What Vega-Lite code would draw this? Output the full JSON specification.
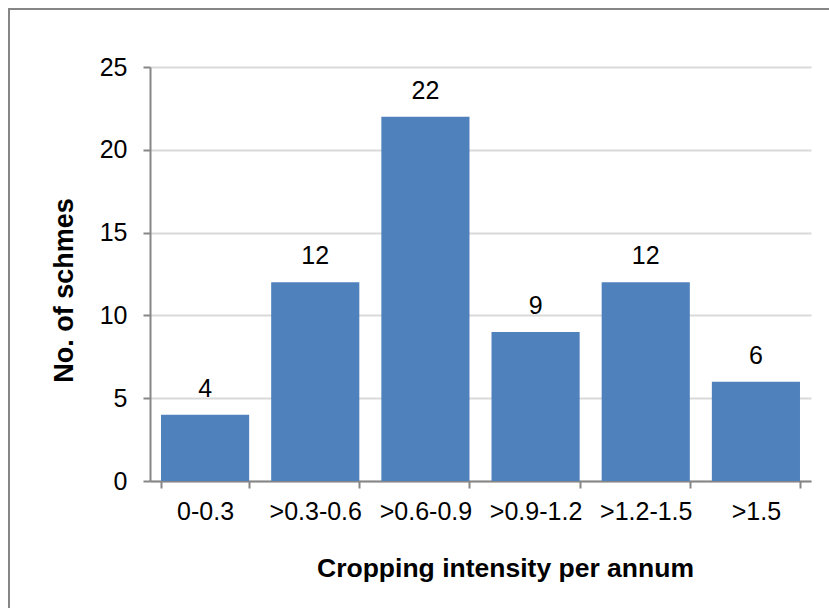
{
  "$schema": "https://vega.github.io/schema/vega-lite/v6.json",
  "width": 661,
  "height": 414,
  "autosize": {"type": "none"},
  "padding": {"left": 150, "top": 67, "right": 18, "bottom": 127},
  "background": "white",
  "config": {
    "font": "Liberation Sans",
    "view": {"stroke": null}
  },
  "data": {
    "values": [
      {"intensity": "0-0.3", "schemes": 4},
      {"intensity": ">0.3-0.6", "schemes": 12},
      {"intensity": ">0.6-0.9", "schemes": 22},
      {"intensity": ">0.9-1.2", "schemes": 9},
      {"intensity": ">1.2-1.5", "schemes": 12},
      {"intensity": ">1.5", "schemes": 6}
    ]
  },
  "encoding": {
    "x": {
      "field": "intensity",
      "type": "nominal",
      "sort": null,
      "scale": {"paddingInner": 0.2, "paddingOuter": 0.1},
      "axis": {
        "title": "Cropping intensity per annum",
        "titleFontSize": 26.5,
        "titleFontWeight": "bold",
        "titleColor": "#000000",
        "titleX": 355,
        "titleY": 95,
        "titleAlign": "center",
        "titleBaseline": "alphabetic",
        "labelAngle": 0,
        "labelFontSize": 25,
        "labelColor": "#000000",
        "labelPadding": 11,
        "tickBand": "extent",
        "tickSize": 7,
        "tickColor": "#868686",
        "tickWidth": 2,
        "domainColor": "#868686",
        "domainWidth": 2,
        "grid": false
      }
    },
    "y": {
      "field": "schemes",
      "type": "quantitative",
      "scale": {"domain": [0, 25], "nice": false},
      "axis": {
        "title": "No. of schmes",
        "titleFontSize": 27,
        "titleFontWeight": "bold",
        "titleColor": "#000000",
        "titleAngle": -90,
        "titleX": -78,
        "titleY": 223,
        "titleAlign": "center",
        "titleBaseline": "alphabetic",
        "values": [0, 5, 10, 15, 20, 25],
        "labelFontSize": 25,
        "labelColor": "#000000",
        "labelPadding": 16,
        "tickSize": 7,
        "tickColor": "#868686",
        "tickWidth": 2,
        "domainColor": "#868686",
        "domainWidth": 2,
        "grid": true,
        "gridColor": "#d9d9d9",
        "gridWidth": 2
      }
    }
  },
  "layer": [
    {
      "mark": {"type": "bar", "color": "#4f81bd"}
    },
    {
      "mark": {
        "type": "text",
        "baseline": "alphabetic",
        "dy": -18,
        "fontSize": 25,
        "color": "#000000"
      },
      "encoding": {"text": {"field": "schemes", "type": "quantitative"}}
    },
    {
      "data": {"values": [{"frame": "outline"}]},
      "mark": {
        "type": "rect",
        "fill": null,
        "stroke": "#868686",
        "strokeWidth": 2,
        "clip": false
      },
      "encoding": {
        "x": {"value": -141},
        "x2": {"value": 700},
        "y": {"value": -58},
        "y2": {"value": 560}
      }
    }
  ]
}
